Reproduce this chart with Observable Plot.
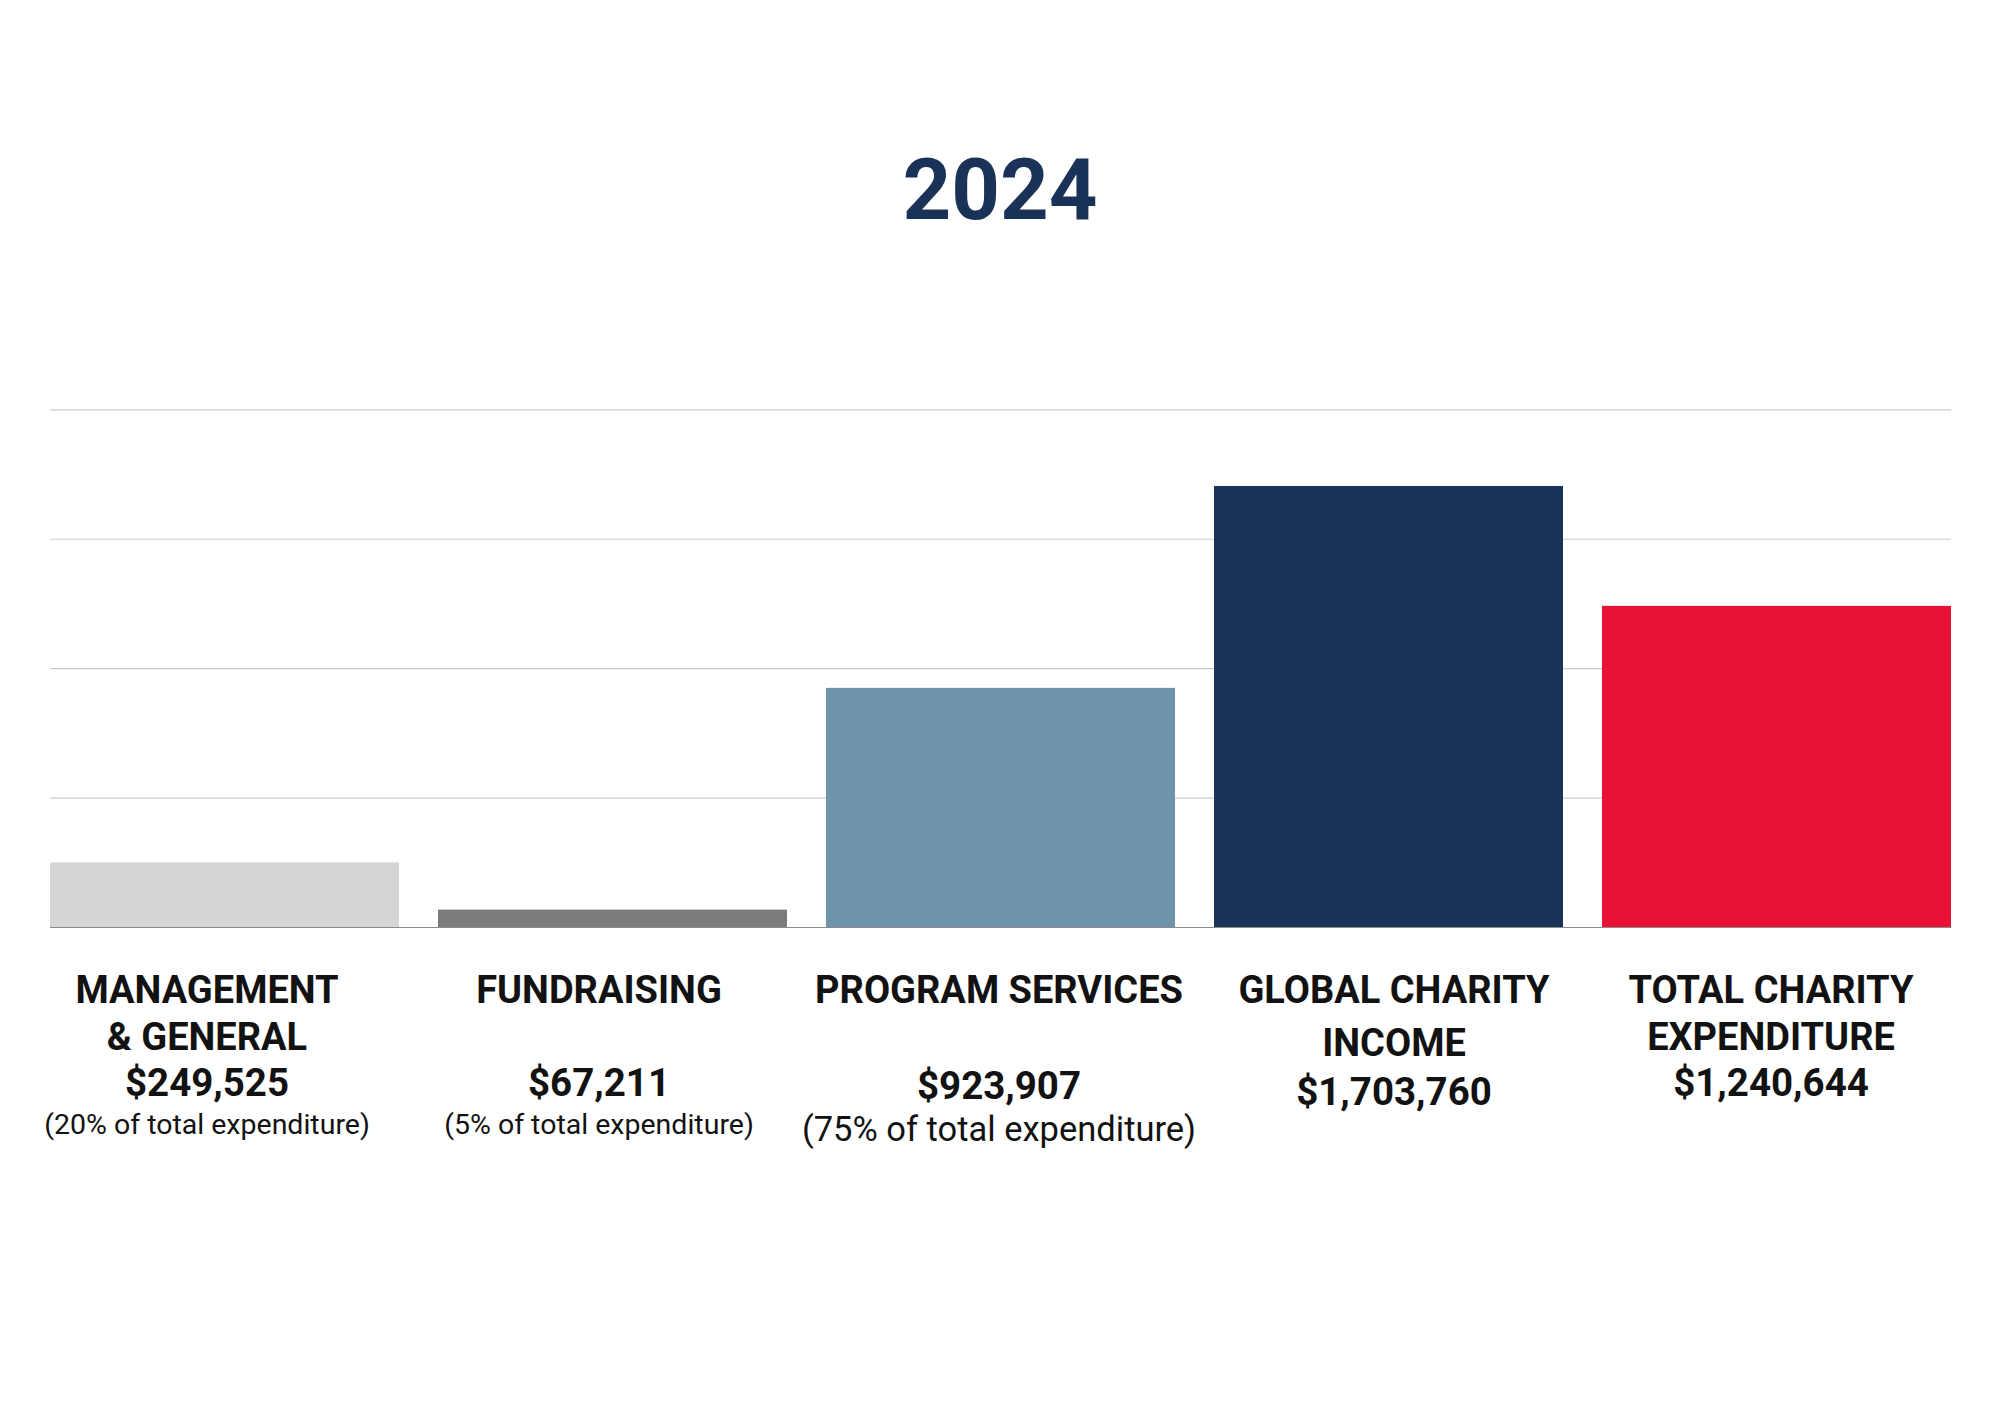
<!DOCTYPE html>
<html>
<head>
<meta charset="utf-8">
<script src="https://cdn.jsdelivr.net/npm/d3@7"></script>
<script src="https://cdn.jsdelivr.net/npm/@observablehq/plot@0.6"></script>
<style>
  html, body { margin: 0; padding: 0; background: #fff; }
  #wrap { width: 2000px; }
  #title {
    height: 300px; box-sizing: border-box; padding-top: 148px;
    font: 700 85px/85px Roboto, "Noto Sans", sans-serif;
    color: #1a3257; text-align: center;
  }
</style>
</head>
<body>
<div id="wrap">
  <div id="title">2024</div>
  <div id="chart"></div>
</div>
<script>
// ---- data ----
const categories = [
  "MANAGEMENT\n& GENERAL",
  "FUNDRAISING",
  "PROGRAM SERVICES",
  "GLOBAL CHARITY\nINCOME",
  "TOTAL CHARITY\nEXPENDITURE"
];
const amounts = [249525, 67211, 923907, 1703760, 1240644];
const shares = [
  "(20% of total expenditure)",
  "(5% of total expenditure)",
  "(75% of total expenditure)",
  "",
  ""
];
const gridValues = [500000, 1000000, 1500000, 2000000];
const barColors = ["#d5d5d5", "#7b7b7b", "#6e94a9", "#1a3357", "#e81238"];

// ---- layout (label nudges relative to bar centres, in px) ----
const labelNudgeX = [-18, -14, -2, 5, -6];
const labelSpreadY = [0, 0, 2, 6, 0];
const shareSize = [28.5, 28.5, 34.5, 28.5, 28.5];

const data = categories.map((c, i) => ({category: c, amount: amounts[i], share: shares[i], i}));
const money = d3.format("$,");
const ink = "#121212";

const labelMarks = data.flatMap(d => {
  const nx = labelNudgeX[d.i], sy = labelSpreadY[d.i];
  const common = {x: "category", frameAnchor: "bottom", dx: nx, fill: ink};
  const lines = d.category.split("\n");
  return [
    Plot.text([d], {...common, dy: 75, lineAnchor: "bottom", text: () => lines[0], fontSize: 38, fontWeight: 700}),
    Plot.text([d], {...common, dy: 122 + sy, lineAnchor: "bottom", text: () => lines[1] || "", fontSize: 38, fontWeight: 700}),
    Plot.text([d], {...common, dy: 168 + 1.6 * sy, lineAnchor: "bottom", text: () => money(d.amount), fontSize: 38.5, fontWeight: 700}),
    Plot.text([d], {...common, dy: 186.5 + sy, lineAnchor: "top", text: "share", fontSize: shareSize[d.i], fontWeight: 400})
  ];
});

const chart = Plot.plot({
  width: 2000,
  height: 1114,
  marginTop: 109.3,
  marginBottom: 487,
  marginLeft: 50,
  marginRight: 49,
  style: {fontFamily: "Roboto, 'Noto Sans', sans-serif", background: "#fff"},
  x: {domain: categories, paddingInner: 0.1013, paddingOuter: 0, axis: null},
  y: {domain: [0, 2000000], axis: null},
  color: {domain: categories, range: barColors},
  marks: [
    Plot.ruleY(gridValues, {stroke: "#cccccc", strokeWidth: 1.2}),
    Plot.ruleY([0], {stroke: "#8a8a8a", strokeWidth: 1.2}),
    Plot.barY(data, {x: "category", y: "amount", fill: "category"}),
    ...labelMarks
  ]
});
document.getElementById("chart").appendChild(chart);
</script>
</body>
</html>
